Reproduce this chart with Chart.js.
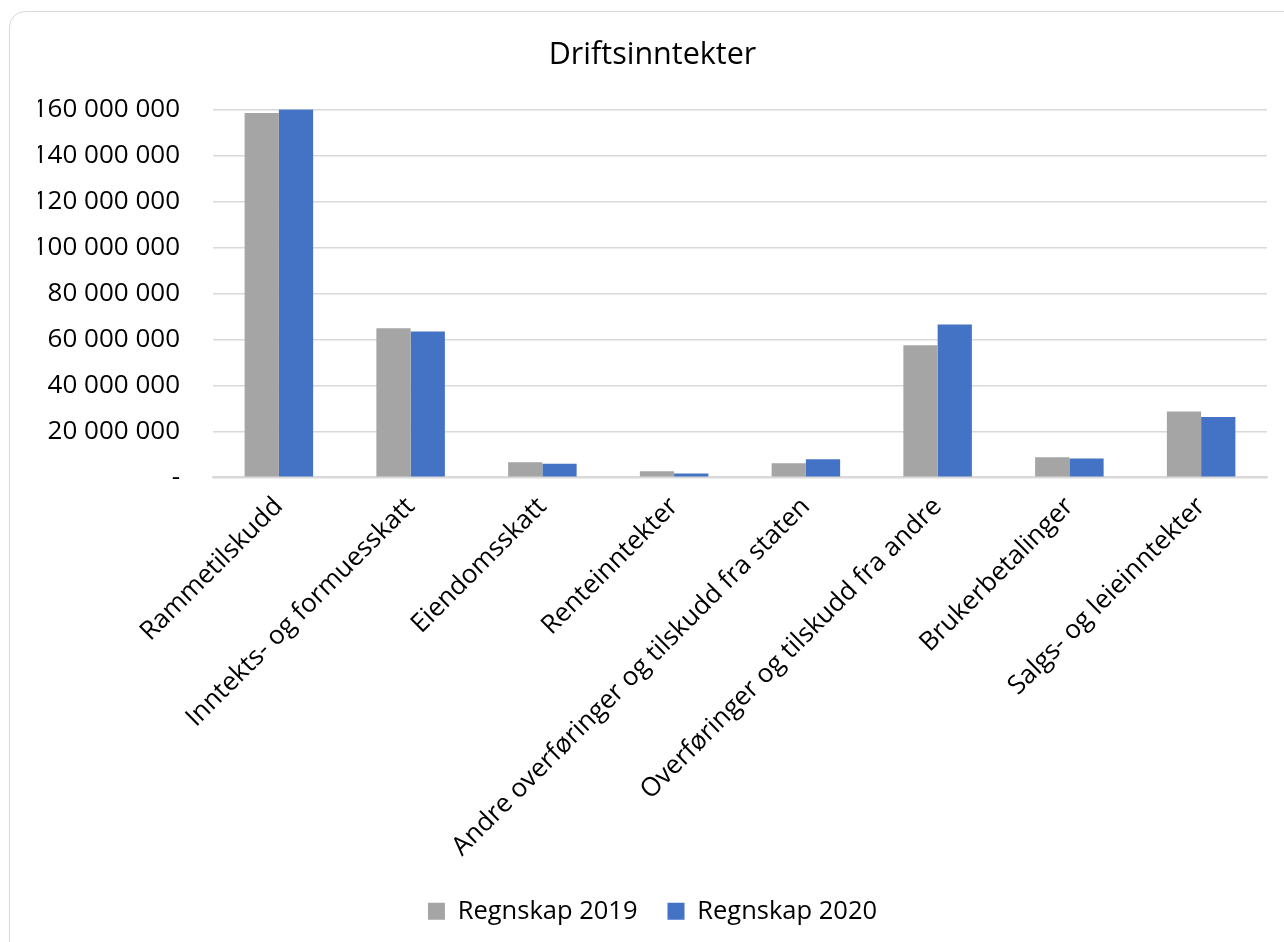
<!DOCTYPE html>
<html>
<head>
<meta charset="utf-8">
<script src="https://cdn.jsdelivr.net/npm/chart.js@4/dist/chart.umd.min.js"></script>
<style>
  html, body { margin: 0; padding: 0; background: #fff; }
  body { width: 1284px; height: 942px; position: relative; overflow: hidden; }
  #frame {
    position: absolute; left: 9px; top: 11px; width: 1300px; height: 960px;
    border: 1.5px solid #d9d9d9; border-radius: 16px; box-sizing: border-box;
  }
  #wrap { position: absolute; left: 0; top: 0; width: 1284px; height: 942px; }
</style>
</head>
<body>
<div id="frame"></div>
<div id="wrap"><canvas id="driftChart" width="1284" height="942"></canvas></div>
<script>
const categories = [
  "Rammetilskudd",
  "Inntekts- og formuesskatt",
  "Eiendomsskatt",
  "Renteinntekter",
  "Andre overføringer og tilskudd fra staten",
  "Overføringer og tilskudd fra andre",
  "Brukerbetalinger",
  "Salgs- og leieinntekter"
];
const regnskap2019 = [158500000, 64900000, 6600000, 2600000, 6100000, 57500000, 8700000, 28600000];
const regnskap2020 = [160100000, 63400000, 5900000, 1700000, 7900000, 66500000, 8200000, 26300000];

const fontFamily = "'Open Sans', 'Noto Sans', sans-serif";

function formatNumber(v) {
  if (v === 0) return "-";
  return String(v).replace(/\B(?=(\d{3})+(?!\d))/g, " ");
}

document.addEventListener("DOMContentLoaded", function () {
  const ctx = document.getElementById("driftChart").getContext("2d");

  new Chart(ctx, {
    type: "bar",
    data: {
      labels: categories,
      datasets: [
        { label: "Regnskap 2019", data: regnskap2019, backgroundColor: "#a5a5a5", categoryPercentage: 0.52, barPercentage: 1.0 },
        { label: "Regnskap 2020", data: regnskap2020, backgroundColor: "#4472c4", categoryPercentage: 0.52, barPercentage: 1.0 }
      ]
    },
    options: {
      responsive: false,
      animation: false,
      layout: { padding: { left: 38, right: 17, top: 0, bottom: 8 } },
      plugins: {
        title: {
          display: true,
          text: "Driftsinntekter",
          color: "#000",
          font: { family: fontFamily, size: 30.5, weight: "normal" },
          padding: { top: 37, bottom: 36 }
        },
        legend: {
          position: "bottom",
          labels: {
            color: "#000",
            font: { family: fontFamily, size: 25.5 },
            boxWidth: 17,
            boxHeight: 17,
            padding: 30
          }
        },
        tooltip: { enabled: false }
      },
      scales: {
        x: {
          grid: { display: false },
          border: { display: true, color: "#d9d9d9", width: 2 },
          afterFit: function (scale) { scale.paddingLeft = 0; scale.paddingRight = 0; },
          ticks: {
            color: "#000",
            font: { family: fontFamily, size: 26 },
            maxRotation: 45,
            minRotation: 45,
            autoSkip: false,
            padding: 6
          }
        },
        y: {
          min: 0,
          max: 160000000,
          border: { display: false },
          grid: { color: "#d9d9d9", lineWidth: 1.5, drawTicks: false },
          afterFit: function (scale) { scale.width = 175; },
          ticks: {
            stepSize: 20000000,
            color: "#000",
            font: { family: fontFamily, size: 26 },
            padding: 33,
            callback: function (v) { return formatNumber(v); }
          }
        }
      }
    }
  });
});
</script>
</body>
</html>
